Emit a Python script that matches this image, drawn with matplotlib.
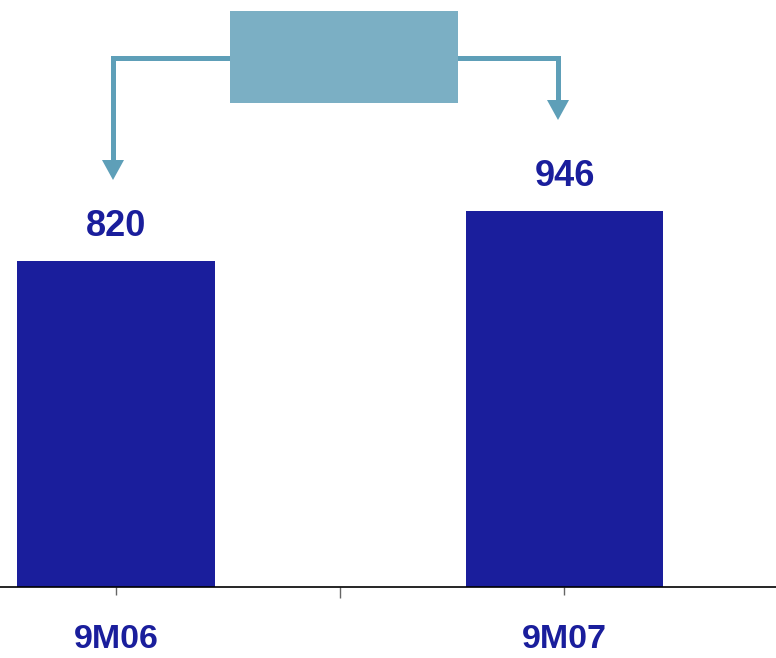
import matplotlib
matplotlib.use("Agg")
import matplotlib.pyplot as plt
from matplotlib.lines import Line2D
from matplotlib.patches import Rectangle, Polygon

categories = ["9M06", "9M07"]
values = [820, 946]

BAR = "#1A1E9C"
BOX = "#7BAFC4"
ARROW = "#5E9FB8"

plt.rcParams['font.family'] = ['Liberation Sans', 'DejaVu Sans']

W, H = 776, 658
fig = plt.figure(figsize=(W / 100, H / 100), dpi=100)
ax = fig.add_axes([0, (H - 587) / H, 1, 587 / H])

x = list(range(len(categories)))
ax.bar(x, values, width=0.44, color=BAR, zorder=2)
ax.set_xlim(-0.2586, 1.4716)
ax.set_ylim(0, 1476.5)

for xi, v in zip(x, values):
    ax.annotate(f"{v}", (xi, v), xytext=(0, 12.5), textcoords="offset points",
                ha="center", va="bottom", fontsize=26, fontweight="bold", color=BAR)

for s in ["top", "right", "left"]:
    ax.spines[s].set_visible(False)
ax.spines["bottom"].set_color("black")
ax.spines["bottom"].set_linewidth(1.2)
ax.set_yticks([])
ax.set_xticks(x)
ax.set_xticklabels(categories, fontsize=24.5, fontweight="bold", color=BAR)
ax.set_xticks([0.5], minor=True)
ax.tick_params(axis="x", which="major", length=6, width=1, color="#666666", pad=21)
ax.tick_params(axis="x", which="minor", length=8, width=1, color="#666666")


def fx(px):
    return px / W


def fy(py):
    return 1 - py / H


# annotation box with connecting arrows
fig.add_artist(Rectangle((fx(230), fy(103)), fx(458) - fx(230), fy(11) - fy(103),
                         transform=fig.transFigure, facecolor=BOX, edgecolor="none", zorder=3))
lw = 3.6
fig.add_artist(Line2D([fx(230), fx(113), fx(113)], [fy(58), fy(58), fy(162)],
                      transform=fig.transFigure, color=ARROW, lw=lw,
                      solid_joinstyle="miter", zorder=2))
fig.add_artist(Polygon([(fx(102), fy(160)), (fx(124), fy(160)), (fx(113), fy(180))],
                       closed=True, transform=fig.transFigure, facecolor=ARROW,
                       edgecolor="none", zorder=2))
fig.add_artist(Line2D([fx(458), fx(558), fx(558)], [fy(58), fy(58), fy(102)],
                      transform=fig.transFigure, color=ARROW, lw=lw,
                      solid_joinstyle="miter", zorder=2))
fig.add_artist(Polygon([(fx(547), fy(100)), (fx(569), fy(100)), (fx(558), fy(120))],
                       closed=True, transform=fig.transFigure, facecolor=ARROW,
                       edgecolor="none", zorder=2))

fig.savefig("out.png", dpi=100)
